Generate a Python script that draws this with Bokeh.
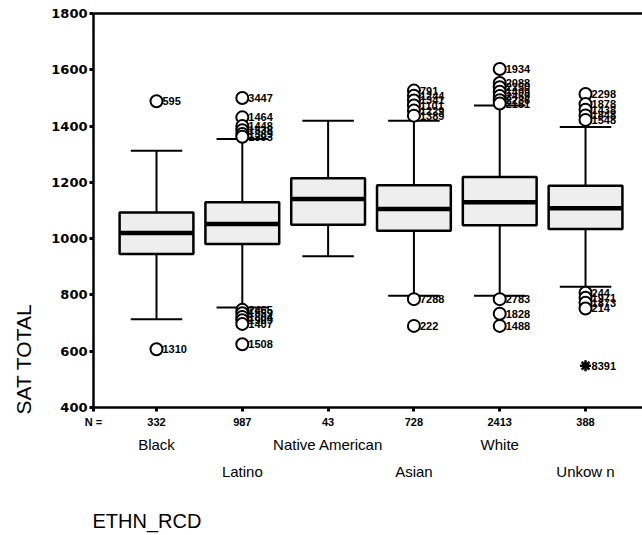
from bokeh.plotting import figure
from bokeh.models import LinearAxis, FixedTicker, Range1d, Title
from bokeh.embed import file_html
from bokeh.resources import INLINE
from bokeh.core.properties import value

# ---------------- data ----------------
categories = ["Black", "Latino", "Native American", "Asian", "White", "Unkow n"]
n_counts = ["332", "987", "43", "728", "2413", "388"]
q1 = [945, 981, 1049, 1028, 1048, 1034]
median = [1020, 1052, 1141, 1105, 1129, 1108]
q3 = [1093, 1129, 1215, 1190, 1219, 1188]
whisker_low = [714, 755, 937, 797, 797, 829]
whisker_high = [1312, 1354, 1419, 1419, 1473, 1397]

# outliers: category index (1-based), value, case id
outlier_cat = [1, 1,
               2, 2, 2, 2, 2, 2, 2, 2, 2, 2, 2, 2,
               4, 4, 4, 4, 4, 4, 4, 4,
               5, 5, 5, 5, 5, 5, 5, 5, 5, 5,
               6, 6, 6, 6, 6, 6, 6, 6, 6]
outlier_val = [1488, 607,
               1500, 1431, 1400, 1385, 1372, 1362, 747, 735, 722, 710, 697, 625,
               1526, 1508, 1491, 1473, 1455, 1437, 785, 690,
               1603, 1553, 1538, 1522, 1507, 1492, 1480, 785, 733, 690,
               1514, 1478, 1458, 1438, 1422, 808, 790, 772, 752]
outlier_id = ["595", "1310",
              "3447", "1464", "1448", "1538", "1389", "1393", "2465", "1559", "1804", "1909", "1407", "1508",
              "791", "1244", "1341", "1101", "1229", "1389", "7288", "222",
              "1934", "2088", "2250", "1499", "2459", "2236", "2151", "2783", "1828", "1488",
              "2298", "1878", "1438", "1848", "1548", "244", "1971", "1873", "214"]
extreme_cat = [6]
extreme_val = [548]
extreme_id = ["8391"]

y_ticks = [400, 600, 800, 1000, 1200, 1400, 1600, 1800]

FONT = "Liberation Sans"
BOX_W = 0.86
CAP_W = 0.60
X_START = 0.2657
X_END = 6.664

xs = [i + 1 for i in range(len(categories))]

p = figure(width=642, height=535,
           x_range=Range1d(X_START, X_END), y_range=Range1d(400, 1800),
           output_backend="svg", toolbar_location=None,
           min_border_left=93, min_border_right=0, min_border_top=13, min_border_bottom=128)
p.grid.visible = False
p.outline_line_color = None
p.background_fill_color = "white"
p.border_fill_color = "white"

# whiskers
p.segment(x0=xs, y0=q3, x1=xs, y1=whisker_high, line_color="black", line_width=2)
p.segment(x0=xs, y0=q1, x1=xs, y1=whisker_low, line_color="black", line_width=2)
p.segment(x0=[x - CAP_W / 2 for x in xs], y0=whisker_high,
          x1=[x + CAP_W / 2 for x in xs], y1=whisker_high, line_color="black", line_width=2)
p.segment(x0=[x - CAP_W / 2 for x in xs], y0=whisker_low,
          x1=[x + CAP_W / 2 for x in xs], y1=whisker_low, line_color="black", line_width=2)
# boxes
p.vbar(x=xs, width=BOX_W, bottom=q1, top=q3, fill_color="#eeeeee",
       line_color="black", line_width=2.5)
# medians
p.segment(x0=[x - BOX_W / 2 for x in xs], y0=median,
          x1=[x + BOX_W / 2 for x in xs], y1=median, line_color="black", line_width=4.5)

# outliers
p.scatter(x=outlier_cat, y=outlier_val, marker="circle", size=12,
          fill_color="white", line_color="black", line_width=2)
p.text(x=outlier_cat, y=outlier_val, text=outlier_id, x_offset=6,
       text_align="left", text_baseline="middle", text_font=value(FONT),
       text_font_size="11px", text_font_style="bold", text_color="black")
p.scatter(x=extreme_cat, y=extreme_val, marker="asterisk", size=11,
          line_color="black", line_width=2.5)
p.text(x=extreme_cat, y=extreme_val, text=extreme_id, x_offset=6,
       text_align="left", text_baseline="middle", text_font=value(FONT),
       text_font_size="11px", text_font_style="bold", text_color="black")

# y axis
ya = p.yaxis[0]
ya.ticker = FixedTicker(ticks=y_ticks)
ya.axis_line_width = 2.5
ya.major_tick_out = 4
ya.major_tick_in = 0
ya.major_tick_line_width = 3
ya.minor_tick_out = 0
ya.minor_tick_in = 0
ya.major_label_standoff = 2
ya.major_label_text_font = "DejaVu Sans"
ya.major_label_text_font_size = "13px"
ya.major_label_text_font_style = "bold"
ya.major_label_text_color = "black"

# x axis with N counts (first tick at frame corner carries "N =")
xa = p.xaxis[0]
xa.ticker = FixedTicker(ticks=[X_START] + xs)
overrides = {x: n for x, n in zip(xs, n_counts)}
overrides[X_START] = "N ="
xa.major_label_overrides = overrides
xa.axis_line_width = 2.5
xa.major_tick_out = 4
xa.major_tick_in = 0
xa.major_tick_line_width = 3
xa.minor_tick_out = 0
xa.minor_tick_in = 0
xa.major_label_standoff = 4
xa.major_label_text_font = FONT
xa.major_label_text_font_size = "11px"
xa.major_label_text_font_style = "bold"
xa.major_label_text_color = "black"

# top frame line
top = LinearAxis(ticker=FixedTicker(ticks=[]), axis_line_width=2.5,
                 major_tick_out=0, major_tick_in=0, minor_tick_out=0, minor_tick_in=0)
p.add_layout(top, "above")

# category name rows
def name_axis(idx, standoff):
    ax = LinearAxis(ticker=FixedTicker(ticks=[xs[i] for i in idx]),
                    major_label_overrides={xs[i]: categories[i] for i in idx},
                    axis_line_color=None, major_tick_out=0, major_tick_in=0,
                    minor_tick_out=0, minor_tick_in=0,
                    major_label_standoff=standoff,
                    major_label_text_font=FONT, major_label_text_font_size="15px",
                    major_label_text_color="black")
    return ax

p.add_layout(name_axis([0, 2, 4], 5), "below")
p.add_layout(name_axis([1, 3, 5], 7), "below")

p.add_layout(Title(text="ETHN_RCD", align="left", text_font=FONT, text_font_size="20px",
                   text_font_style="normal", text_color="black", standoff=0, offset=-1,
                   padding=dict(left=0, right=0, top=25, bottom=0)), "below")
p.add_layout(Title(text="SAT TOTAL", align="left", text_font=FONT, text_font_size="21px",
                   text_font_style="normal", text_color="black", standoff=0, offset=-7,
                   padding=dict(left=0, right=0, top=0, bottom=14)), "left")

open("out.html", "w").write(file_html(p, INLINE))
